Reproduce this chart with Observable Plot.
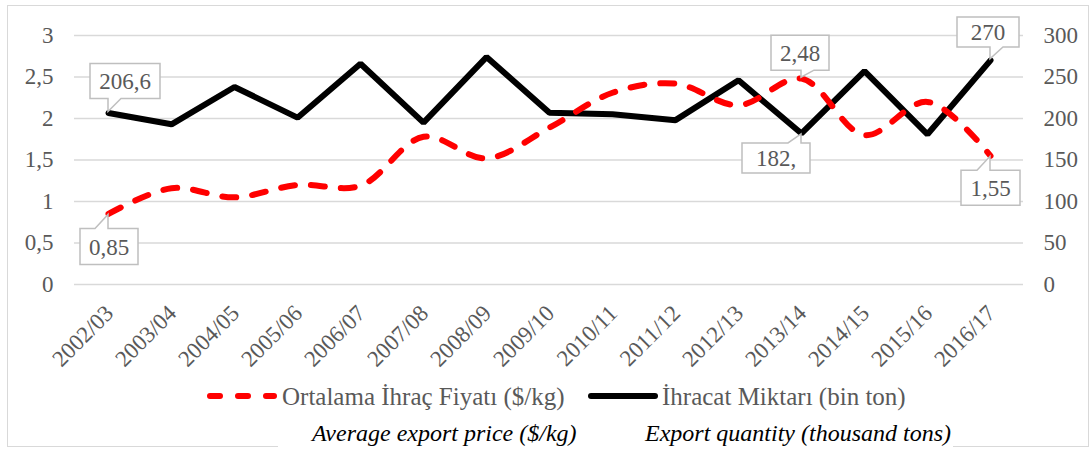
<!DOCTYPE html>
<html><head><meta charset="utf-8">
<script src="https://cdn.jsdelivr.net/npm/d3@7"></script>
<script src="https://cdn.jsdelivr.net/npm/@observablehq/plot@0.6"></script>
<style>
body{margin:0;background:#fff;}
#wrap{position:relative;width:1092px;height:449px;overflow:hidden;font-family:"Liberation Serif";background:#fff;}
#border{position:absolute;left:7px;top:5px;width:1082px;height:442px;border:1px solid #d9d9d9;box-sizing:border-box;}
#chart{position:absolute;left:0;top:0;}
.leg{position:absolute;white-space:nowrap;color:#595959;font-family:"Liberation Serif";font-size:25px;line-height:1;}
.it{position:absolute;white-space:nowrap;color:#000;font-family:"Liberation Serif";font-size:24px;font-style:italic;line-height:1;}
#mask{position:absolute;left:278px;top:418px;width:675px;height:31px;background:#fff;}
#chart svg text{font-family:"Liberation Serif";}
</style></head>
<body>
<div id="wrap">
  <div id="border"></div>
  <div id="chart"></div>
  <svg style="position:absolute;left:0;top:380px" width="700" height="40">
    <line x1="210" x2="274" y1="16" y2="16" stroke="#ff0000" stroke-width="6" stroke-linecap="round" stroke-dasharray="10,18"/>
    <line x1="591" x2="655" y1="16" y2="16" stroke="#000" stroke-width="6" stroke-linecap="round"/>
  </svg>
  <div class="leg" style="left:282px;top:384px;">Ortalama İhraç Fiyatı ($/kg)</div>
  <div class="leg" style="left:662px;top:384px;">İhracat Miktarı (bin ton)</div>
  <div id="mask"></div>
  <div class="it" style="left:312px;top:421px;">Average export price ($/kg)</div>
  <div class="it" style="left:645px;top:421px;">Export quantity (thousand tons)</div>
</div>
<script>
// ---- data ----
const seasons = ["2002/03","2003/04","2004/05","2005/06","2006/07","2007/08","2008/09","2009/10","2010/11","2011/12","2012/13","2013/14","2014/15","2015/16","2016/17"];
const price = [0.85,1.16,1.05,1.20,1.19,1.78,1.52,1.89,2.31,2.42,2.16,2.48,1.80,2.20,1.55];     // $/kg, left axis
const quantity = [206.6,193,238,201,266,195,274,207,205,198,246,182,257,181,270];             // thousand tons, right axis
const leftTicks = [0,0.5,1,1.5,2,2.5,3];
const rightTicks = [0,50,100,150,200,250,300];
const calloutSeason = ["2002/03","2002/03","2013/14","2013/14","2016/17","2016/17"];
const calloutSeries = ["quantity","price","price","quantity","quantity","price"];
const calloutText = ["206,6","0,85","2,48","182,","270","1,55"];

// ---- layout of callouts (pixels relative to the data point) ----
const calloutLayout = [
  {left:-18, w:70, h:35, side:"above", gap:14},
  {left:-28, w:58, h:36, side:"below", gap:15},
  {left:-30, w:58, h:35, side:"above", gap:8},
  {left:-59, w:68, h:30, side:"below", gap:10},
  {left:-33, w:62, h:30, side:"above", gap:13},
  {left:-29, w:59, h:35, side:"below", gap:15}
];

const table = seasons.map((s,i)=>({season:s, price:price[i], quantity:quantity[i], q:quantity[i]/100}));
const ratio = 100; // right axis units per left axis unit

function callouts(index, scales) {
  const g = d3.create("svg:g");
  calloutSeason.forEach((s,i)=>{
    const row = table.find(r=>r.season===s);
    const v = calloutSeries[i]==="price" ? row.price : row.quantity/ratio;
    const px = scales.x(s), py = scales.y(v);
    const L = calloutLayout[i];
    const x0 = px + L.left, x1 = x0 + L.w;
    let y0, y1, path;
    if (L.side === "above") {
      y1 = py - L.gap; y0 = y1 - L.h;
      path = `M${x0},${y0}H${x1}V${y1}H${px+13}L${px},${py-1}V${y1}H${x0}Z`;
    } else {
      y0 = py + L.gap; y1 = y0 + L.h;
      path = `M${x0},${y0}H${px-13}L${px},${py+1}V${y0}H${x1}V${y1}H${x0}Z`;
    }
    g.append("path").attr("d", path).attr("fill","#fff").attr("stroke","#bfbfbf").attr("stroke-width",1.5);
    g.append("text").attr("x",(x0+x1)/2).attr("y",(y0+y1)/2).attr("dy","0.36em")
      .attr("text-anchor","middle").attr("fill","#595959").attr("font-size",23)
      .attr("font-family","Liberation Serif").text(calloutText[i]);
  });
  return g.node();
}

const chart = Plot.plot({
  width:1092, height:380,
  marginLeft:74, marginRight:69, marginTop:35, marginBottom:96,
  x:{type:"point", domain:seasons, padding:0.5, label:null},
  y:{domain:[0,3], label:null},
  style:{fontFamily:"'Liberation Serif'", fontSize:"23px", color:"#595959", background:"transparent", overflow:"visible"},
  marks:[
    Plot.ruleY(leftTicks, {stroke:"#d9d9d9", strokeWidth:1.5}),
    Plot.axisY(leftTicks, {anchor:"left", tickSize:0, tickPadding:21, tickFormat:d=>String(d).replace(".",","), label:null, fill:"#595959"}),
    Plot.axisY(rightTicks.map(t=>t/ratio), {anchor:"right", tickSize:0, tickPadding:20, tickFormat:d=>String(Math.round(d*ratio)), label:null, fill:"#595959"}),
    Plot.axisX({tickRotate:-45, tickSize:0, tickPadding:25, dx:1, label:null, fill:"#595959", fontSize:23}),
    Plot.line(table, {x:"season", y:"q", stroke:"#000", strokeWidth:6, strokeLinejoin:"miter"}),
    Plot.line(table, {x:"season", y:"price", curve:"catmull-rom", stroke:"#ff0000", strokeWidth:6, strokeDasharray:"14,16", strokeLinecap:"round"}),
    callouts
  ]
});
document.getElementById("chart").append(chart);
</script>
</body></html>
